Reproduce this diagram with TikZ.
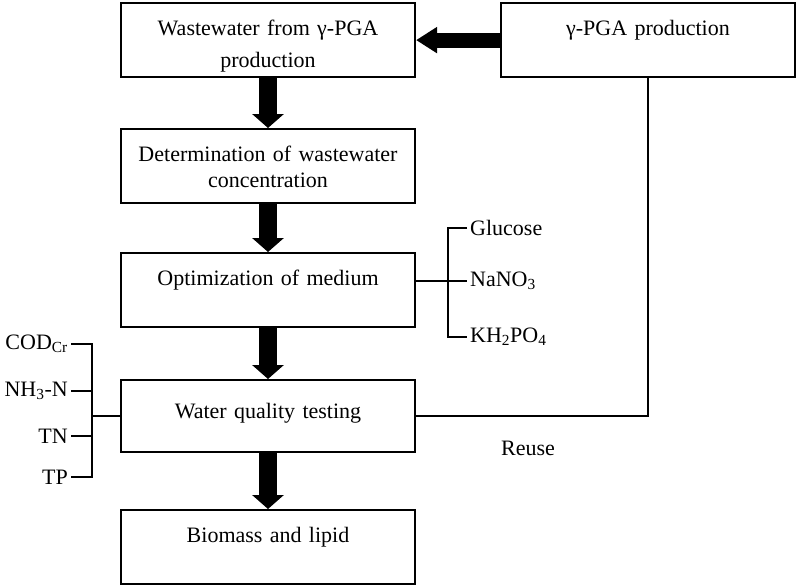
\documentclass[tikz,border=0pt]{standalone}
\usepackage{fontspec}
\setmainfont{Liberation Serif}
\usetikzlibrary{positioning,calc,arrows.meta}

\begin{document}
\begin{tikzpicture}[
		x=1pt,y=-1pt,
		line cap=round,line join=round,
		box/.style={draw, line width=2.2pt, line join=miter, anchor=north,
			minimum width=294pt, inner sep=0pt, text width=280pt, align=center,
			text height=32pt, text depth=42pt, font=\fontsize{22}{26}\selectfont},
		lbl/.style={inner sep=3pt, font=\fontsize{22}{26}\selectfont},
		fatarrow/.style={line width=18pt, line cap=butt, -{Triangle[length=14pt,width=31pt]}},
		hfatarrow/.style={line width=15pt, line cap=butt, -{Triangle[length=21pt,width=25pt]}},
		brace/.style={line width=1.8pt, line cap=butt, line join=miter}
		]
		\useasboundingbox (0,0) rectangle (797,584);
		
		% ---- main column of boxes
		\node[box] (ww)  at (268,2)   {Wastewater from γ-PGA\\[6pt] production};
		\node[box] (det) at (268,128) {Determination of wastewater\\ concentration};
		\node[box] (opt) at (268,252) {Optimization of medium};
		\node[box, text height=38pt, text depth=34pt] (wq) at (268,379) {Water quality testing};
		\node[box] (bio) at (268,509) {Biomass and lipid};
		
		% ---- source box
		\node[box] (pga) at (648,2) {γ-PGA production};
		
		% ---- fat arrows
		\draw[hfatarrow] (pga) -- (ww);
		\draw[fatarrow] (ww) -- (det);
		\draw[fatarrow] (det) -- (opt);
		\draw[fatarrow] (opt) -- (wq);
		\draw[fatarrow] (wq) -- (bio);
		
		% ---- reuse loop
		\draw[brace] (pga.south) |- (wq.east);
		\node[lbl] (reuse) at (528,448) {Reuse};
		
		% ---- medium components (right bracket)
		\node[lbl, anchor=west] (glu)  at (467,228) {Glucose};
		\node[lbl, anchor=west] (nano) at (467,281) {NaNO\textsubscript{3}};
		\node[lbl, anchor=west] (khpo) at (467,337) {KH\textsubscript{2}PO\textsubscript{4}};
		\coordinate (rsp) at (448,0);
		\draw[brace] (glu.west) -- (glu.west -| rsp) -- (khpo.west -| rsp) -- (khpo.west);
		\draw[brace] (opt.east |- nano.west) -- (nano.west);
		
		% ---- quality indices (left bracket)
		\node[lbl, anchor=east] (cod) at (71,344) {COD\textsubscript{Cr}};
		\node[lbl, anchor=east] (nh)  at (71,391) {NH\textsubscript{3}-N};
		\node[lbl, anchor=east] (tn)  at (71,436) {TN};
		\node[lbl, anchor=east] (tp)  at (71,477) {TP};
		\coordinate (lsp) at (92,0);
		\draw[brace] (cod.east) -- (cod.east -| lsp) -- (tp.east -| lsp) -- (tp.east);
		\draw[brace] (nh.east) -- (nh.east -| lsp);
		\draw[brace] (tn.east) -- (tn.east -| lsp);
		\draw[brace] (lsp |- wq.west) -- (wq.west);
	\end{tikzpicture}
\end{document}
